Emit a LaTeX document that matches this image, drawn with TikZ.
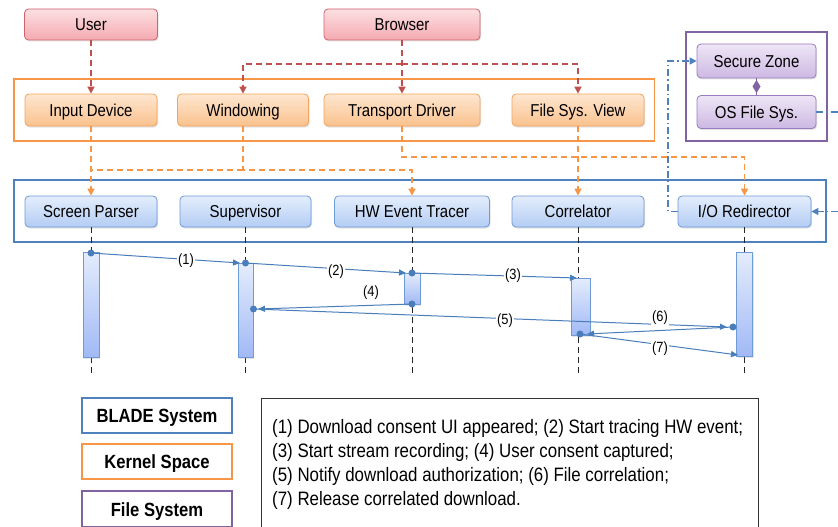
\documentclass[tikz,border=0pt]{standalone}
\usepackage{fontspec}
\setmainfont{Liberation Sans}[FakeStretch=0.87]
\usetikzlibrary{arrows.meta,shadows}
\definecolor{redB}{HTML}{D0646C}\definecolor{redTop}{HTML}{FCE0E2}\definecolor{redBot}{HTML}{F4AAB1}
\definecolor{orB}{HTML}{F2A55E}\definecolor{orTop}{HTML}{FEE6D0}\definecolor{orBot}{HTML}{FAC28E}
\definecolor{blB}{HTML}{6E9AD6}\definecolor{blTop}{HTML}{E4EDFC}\definecolor{blBot}{HTML}{B3CDF4}
\definecolor{puB}{HTML}{9A7DBE}\definecolor{puTop}{HTML}{EEE6F6}\definecolor{puBot}{HTML}{CDB8E3}
\definecolor{kern}{HTML}{F79646}\definecolor{blade}{HTML}{4F81BD}\definecolor{fsys}{HTML}{8064A2}
\definecolor{reddash}{HTML}{C0504D}\definecolor{msgc}{HTML}{4A7EBB}
\tikzset{
  nbox/.style={rounded corners=4pt, line width=0.8pt, minimum height=31pt, inner sep=0pt,
    text height=12.3pt, text depth=0pt,
    font=\fontsize{17.2}{20}\selectfont,
    drop shadow={opacity=0.22, shadow xshift=1pt, shadow yshift=-1.5pt}},
  rbox/.style={nbox, draw=redB, top color=redTop, bottom color=redBot},
  obox/.style={nbox, draw=orB, top color=orTop, bottom color=orBot, minimum height=32pt},
  bbox/.style={nbox, draw=blB, top color=blTop, bottom color=blBot},
  pbox/.style={nbox, draw=puB, top color=puTop, bottom color=puBot},
  container/.style={line width=1.8pt, inner sep=0pt},
  rdash/.style={draw=reddash, line width=1.6pt, dash pattern=on 6pt off 4pt, -{Triangle[length=7pt,width=7pt]}},
  odashline/.style={draw=kern, line width=1.6pt, dash pattern=on 6pt off 4pt},
  odash/.style={odashline, -{Triangle[length=7pt,width=7pt]}},
  bdd/.style={draw=blade, line width=1.4pt, dash pattern=on 7pt off 3pt on 1.5pt off 3pt, -{Triangle[length=7pt,width=7pt]}},
  life/.style={draw=black!85, line width=1pt, dash pattern=on 6pt off 4pt},
  actbar/.style={draw=blB, line width=0.8pt, top color=blTop, bottom color=blBot!90!blue, inner sep=0pt,
    drop shadow={opacity=0.2, shadow xshift=1pt, shadow yshift=-1.5pt}},
  msg/.style={draw=msgc, line width=1pt, -{Triangle[length=7pt,width=6pt]}},
  mdot/.style={circle, fill=msgc, inner sep=0pt, minimum size=7pt},
  mlabel/.style={fill=white, inner sep=1.5pt, font=\fontsize{14.8}{17}\selectfont},
  legbox/.style={line width=2pt, minimum width=150pt, minimum height=35pt, inner sep=0pt,
    text height=14pt, text depth=0pt,
    font=\bfseries\fontsize{19.1}{22}\selectfont}
}
\begin{document}
\begin{tikzpicture}[x=1pt,y=-1pt]
\useasboundingbox (0,0) rectangle (838,527);
\clip (0,0) rectangle (838,527);
\fill[white] (0,0) rectangle (838,527);

% containers
\node[container, draw=kern, minimum width=640.5pt, minimum height=62pt] (kernel) at (334.25,110) {};
\node[container, draw=blade, minimum width=812pt, minimum height=62pt] (bladebox) at (420,211) {};
\node[container, draw=fsys, minimum width=141pt, minimum height=109pt] (fsbox) at (756.5,86.5) {};

% nodes
\node[rbox, minimum width=133pt] (user) at (91,24.5) {User};
\node[rbox, minimum width=156pt] (browser) at (402,24.5) {Browser};
\node[obox, minimum width=132pt] (indev) at (91,110) {Input Device};
\node[obox, minimum width=131pt] (win) at (243,110) {Windowing};
\node[obox, minimum width=156pt] (trans) at (402,110) {Transport Driver};
\node[obox, minimum width=132pt] (fsv) at (578,110) {File Sys. View};
\node[bbox, minimum width=132pt] (sp) at (91,211.5) {Screen Parser};
\node[bbox, minimum width=131pt] (sup) at (245.5,211.5) {Supervisor};
\node[bbox, minimum width=155pt] (hw) at (412,211.5) {HW Event Tracer};
\node[bbox, minimum width=132pt] (cor) at (578,211.5) {Correlator};
\node[bbox, minimum width=133pt] (io) at (744.5,211.5) {I/O Redirector};
\node[pbox, minimum width=119pt, minimum height=34pt] (sz) at (756.5,61) {Secure Zone};
\node[pbox, minimum width=119pt, minimum height=33pt] (osfs) at (756.5,112) {OS File Sys.};

% red dashed
\draw[rdash] (user.south) -- (indev.north);
\draw[rdash] (browser.south) -- (trans.north);
\coordinate (rsplit) at (402,64);
\draw[rdash] (rsplit) -| (win.north);
\draw[rdash] (rsplit) -| (fsv.north);

% orange dashed
\draw[odash] (indev.south) -- (sp.north);
\coordinate (ojoin) at (243,170);
\coordinate (oleft) at (91,170);
\draw[odashline] (ojoin) -- (oleft);
\draw[odash] (win.south) -- (ojoin) -| (hw.north);
\coordinate (tcorner) at (744.5,157);
\draw[odash] (trans.south) |- (tcorner) -- (io.north);
\draw[odash] (fsv.south) -- (cor.north);

% blue dash-dot
\coordinate (ddl) at (668,211.5);
\draw[bdd] (io.west) -- (ddl) |- (sz.west);
\coordinate (ddr) at (850,112);
\draw[bdd] (osfs.east) -- (ddr) |- (io.east);

% composition diamond
\draw[fsys, line width=1pt] (sz.south) -- (osfs.north);
\fill[fsys] (756.5,80) -- (760.5,86.5) -- (756.5,93) -- (752.5,86.5) -- cycle;

% lifelines
\coordinate (lend) at (0,374);
\draw[life] (sp.south) -- (sp.south |- lend);
\draw[life] (sup.south) -- (sup.south |- lend);
\draw[life] (hw.south) -- (hw.south |- lend);
\draw[life] (cor.south) -- (cor.south |- lend);
\draw[life] (io.south) -- (io.south |- lend);

% activation bars
\node[actbar, minimum width=16pt, minimum height=105pt] (b1) at (91,304.5) {};
\node[actbar, minimum width=15pt, minimum height=94pt] (b2) at (245.5,310) {};
\node[actbar, minimum width=16pt, minimum height=31pt] (b3) at (412,288.5) {};
\node[actbar, minimum width=19pt, minimum height=57pt] (b4) at (580.5,306.5) {};
\node[actbar, minimum width=16pt, minimum height=104pt] (b5) at (744.5,304) {};

% message endpoints
\coordinate (d1) at (91,253);
\coordinate (d2) at (245.5,263);
\coordinate (d3) at (412,273);
\coordinate (d4) at (412,304);
\coordinate (d5) at (253.5,309);
\coordinate (d6) at (733,327);
\coordinate (d7) at (580,334);
\coordinate (e1) at (240,263);
\coordinate (e2) at (406,273);
\coordinate (e3) at (577,278);
\coordinate (e4) at (258,309);
\coordinate (e5) at (727,327);
\coordinate (e6) at (587,334);
\coordinate (e7) at (738,355);

\draw[msg] (d1) -- (e1);
\draw[msg] (d2) -- (e2);
\draw[msg] (d3) -- (e3);
\draw[msg] (d4) -- (e4);
\draw[msg] (d5) -- (e5);
\draw[msg] (d6) -- (e6);
\draw[msg] (d7) -- (e7);

\node[mlabel] (l1) at (186,261) {(1)};
\node[mlabel] (l2) at (336,272) {(2)};
\node[mlabel] (l3) at (513,276) {(3)};
\node[mlabel] (l4) at (371,293) {(4)};
\node[mlabel] (l5) at (505,321) {(5)};
\node[mlabel] (l6) at (660,318) {(6)};
\node[mlabel] (l7) at (660,349) {(7)};

\foreach \d in {d1,d2,d3,d4,d5,d6,d7} \node[mdot] at (\d) {};

% legend
\node[legbox, draw=blade] (lg1) at (157,415) {BLADE System};
\node[legbox, draw=kern] (lg2) at (157,461.5) {Kernel Space};
\node[legbox, draw=fsys, minimum height=36pt] (lg3) at (157,509) {File System};
\draw[black!80, line width=1pt] (261,540) -- (261,398) -- (758,398) -- (758,540);
\node[anchor=west, align=left, inner sep=0pt, font=\fontsize{19.4}{24}\selectfont] (legtext) at (272,464)
  {(1) Download consent UI appeared; (2) Start tracing HW event;\\
   (3) Start stream recording; (4) User consent captured;\\
   (5) Notify download authorization; (6) File correlation;\\
   (7) Release correlated download.};
\end{tikzpicture}
\end{document}
